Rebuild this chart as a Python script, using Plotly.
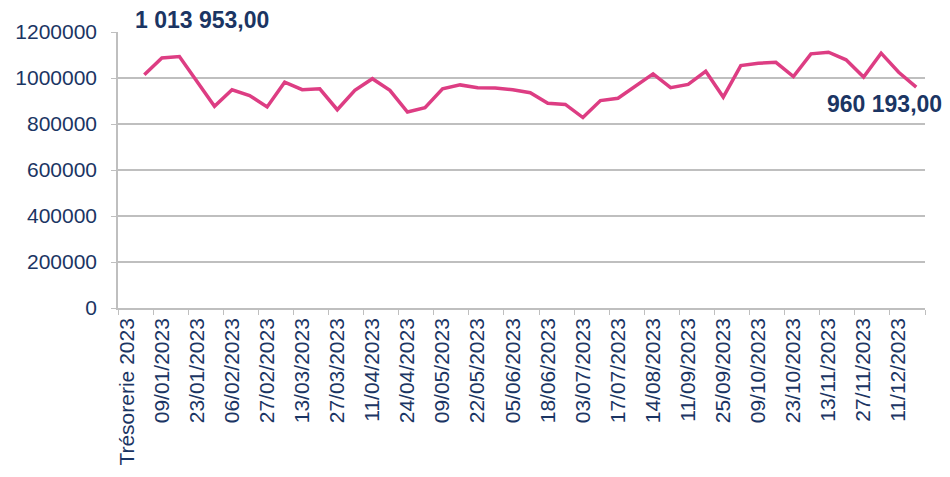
import plotly.graph_objects as go

categories = [
    "Trésorerie 2023", "02/01/2023", "09/01/2023", "16/01/2023", "23/01/2023", "30/01/2023",
    "06/02/2023", "13/02/2023", "27/02/2023", "06/03/2023", "13/03/2023", "20/03/2023",
    "27/03/2023", "03/04/2023", "11/04/2023", "17/04/2023", "24/04/2023", "02/05/2023",
    "09/05/2023", "15/05/2023", "22/05/2023", "29/05/2023", "05/06/2023", "12/06/2023",
    "18/06/2023", "26/06/2023", "03/07/2023", "10/07/2023", "17/07/2023", "31/07/2023",
    "14/08/2023", "28/08/2023", "11/09/2023", "18/09/2023", "25/09/2023", "02/10/2023",
    "09/10/2023", "16/10/2023", "23/10/2023", "30/10/2023", "13/11/2023", "20/11/2023",
    "27/11/2023", "04/12/2023", "11/12/2023", "18/12/2023",
]

tresorerie = [
    None, 1013953, 1087000, 1093000, 985000, 877000,
    949000, 924000, 874000, 982000, 949000, 953000,
    862000, 946000, 997000, 946000, 852000, 871000,
    953000, 970000, 958000, 957000, 949000, 936000,
    890000, 885000, 828000, 902000, 912000, 967000,
    1018000, 958000, 972000, 1029000, 917000, 1054000,
    1064000, 1068000, 1006000, 1105000, 1112000, 1079000,
    1004000, 1108000, 1025000, 960193,
]

label_first = "1 013 953,00"
label_last = "960 193,00"

navy = "#1B3563"
grid = "#BFBFBF"
font_family = "Liberation Sans, Arial, sans-serif"

fig = go.Figure()
fig.add_trace(go.Scatter(
    x=categories, y=tresorerie, mode="lines",
    line=dict(color="#DD3D83", width=3.5),
    connectgaps=False, hoverinfo="skip",
))

fig.add_annotation(x=categories[1], y=tresorerie[1], text="<b>" + label_first + "</b>",
                   showarrow=False, xanchor="left", yanchor="middle",
                   xshift=-11, yshift=55,
                   font=dict(family=font_family, size=23, color=navy))
fig.add_annotation(x=categories[-1], y=tresorerie[-1], text="<b>" + label_last + "</b>",
                   showarrow=False, xanchor="center", yanchor="middle",
                   xshift=-32, yshift=-17,
                   font=dict(family=font_family, size=23, color=navy))

fig.update_layout(
    width=950, height=477,
    margin=dict(l=110, r=33, t=24, b=177),
    paper_bgcolor="white", plot_bgcolor="white",
    showlegend=False,
    font=dict(family=font_family, color=navy, size=21),
)
fig.update_xaxes(
    type="category", range=[-0.5, len(categories) - 0.5],
    tickmode="linear", tick0=0, dtick=2, tickangle=-90,
    tickson="boundaries", ticks="outside", ticklen=5, tickcolor=grid,
    showline=True, linecolor=grid, linewidth=1.5,
    showgrid=False, automargin=False,
    tickfont=dict(family=font_family, size=21, color=navy),
)
fig.update_yaxes(
    range=[0, 1200000], dtick=200000, tickformat="d",
    showgrid=True, gridcolor=grid, gridwidth=1.5,
    zeroline=False, automargin=False,
    showline=True, linecolor=grid, linewidth=1.5,
    ticks="outside", ticklen=5, tickcolor=grid,
    ticklabelstandoff=10,
    tickfont=dict(family=font_family, size=21, color=navy),
)

fig.write_html("out.html")
